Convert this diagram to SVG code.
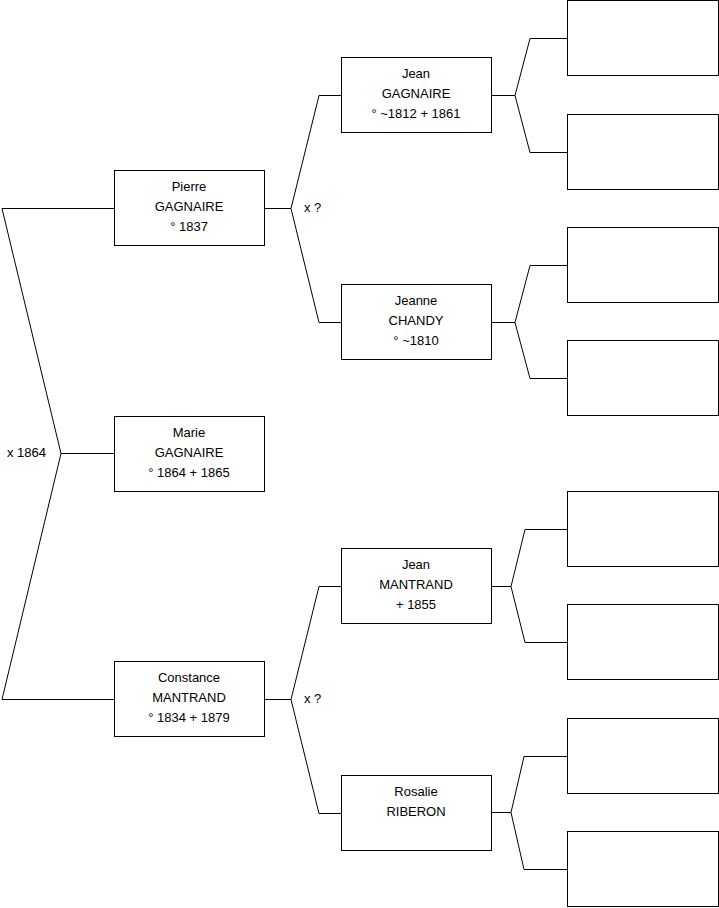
<svg xmlns="http://www.w3.org/2000/svg" width="719" height="908" viewBox="0 0 719 908">
<style>
.box{fill:#fff;stroke:#000;stroke-width:1}
.ln{fill:none;stroke:#000;stroke-width:1}
text{font-family:"Liberation Sans",Arial,sans-serif;font-size:13px;fill:#000}
.c{text-anchor:middle}
</style>
<rect width="719" height="908" fill="#fff"/>
<g id="connectors">
<path class="ln" d="M114,208.5 H2 L61,453.5 L2,699.5 H114 M61,453.5 H114"/>
<path class="ln" d="M265,208.5 H291 L319,95.5 H341 M291,208.5 L319,322.5 H341"/>
<path class="ln" d="M265,699.5 H291 L319,586.5 H341 M291,699.5 L319,813.5 H341"/>
<path class="ln" d="M492,95.5 H515 L530,38.5 H567 M515,95.5 L530,152.5 H567"/>
<path class="ln" d="M492,322.5 H515 L530,265.5 H567 M515,322.5 L530,378.5 H567"/>
<path class="ln" d="M492,586.5 H511 L525,529.5 H567 M511,586.5 L525,642.5 H567"/>
<path class="ln" d="M492,812.5 H511 L524,756.5 H567 M511,812.5 L524,869.5 H567"/>
<text x="7" y="457">x 1864</text>
<text x="304" y="212">x ?</text>
<text x="304" y="703">x ?</text>
</g>
<g id="pierre"><rect class="box" x="114.5" y="170.5" width="150" height="75"/>
<text class="c" x="189" y="190.5">Pierre</text><text class="c" x="189" y="210.5">GAGNAIRE</text><text class="c" x="189" y="230.5">° 1837</text></g>
<g id="marie"><rect class="box" x="114.5" y="416.5" width="150" height="75"/>
<text class="c" x="189" y="436.5">Marie</text><text class="c" x="189" y="456.5">GAGNAIRE</text><text class="c" x="189" y="476.5">° 1864 + 1865</text></g>
<g id="constance"><rect class="box" x="114.5" y="661.5" width="150" height="75"/>
<text class="c" x="189" y="681.5">Constance</text><text class="c" x="189" y="701.5">MANTRAND</text><text class="c" x="189" y="721.5">° 1834 + 1879</text></g>
<g id="jean-gagnaire"><rect class="box" x="341.5" y="57.5" width="150" height="75"/>
<text class="c" x="416" y="77.5">Jean</text><text class="c" x="416" y="97.5">GAGNAIRE</text><text class="c" x="416" y="117.5">° ~1812 + 1861</text></g>
<g id="jeanne-chandy"><rect class="box" x="341.5" y="284.5" width="150" height="75"/>
<text class="c" x="416" y="304.5">Jeanne</text><text class="c" x="416" y="324.5">CHANDY</text><text class="c" x="416" y="344.5">° ~1810</text></g>
<g id="jean-mantrand"><rect class="box" x="341.5" y="548.5" width="150" height="75"/>
<text class="c" x="416" y="568.5">Jean</text><text class="c" x="416" y="588.5">MANTRAND</text><text class="c" x="416" y="608.5">+ 1855</text></g>
<g id="rosalie-riberon"><rect class="box" x="341.5" y="775.5" width="150" height="75"/>
<text class="c" x="416" y="795.5">Rosalie</text><text class="c" x="416" y="815.5">RIBERON</text></g>
<g id="gp1"><rect class="box" x="567.5" y="0.5" width="151" height="75"/></g>
<g id="gp2"><rect class="box" x="567.5" y="114.5" width="151" height="75"/></g>
<g id="gp3"><rect class="box" x="567.5" y="227.5" width="151" height="75"/></g>
<g id="gp4"><rect class="box" x="567.5" y="340.5" width="151" height="75"/></g>
<g id="gp5"><rect class="box" x="567.5" y="491.5" width="151" height="75"/></g>
<g id="gp6"><rect class="box" x="567.5" y="604.5" width="151" height="75"/></g>
<g id="gp7"><rect class="box" x="567.5" y="718.5" width="151" height="75"/></g>
<g id="gp8"><rect class="box" x="567.5" y="831.5" width="151" height="75"/></g>
</svg>
